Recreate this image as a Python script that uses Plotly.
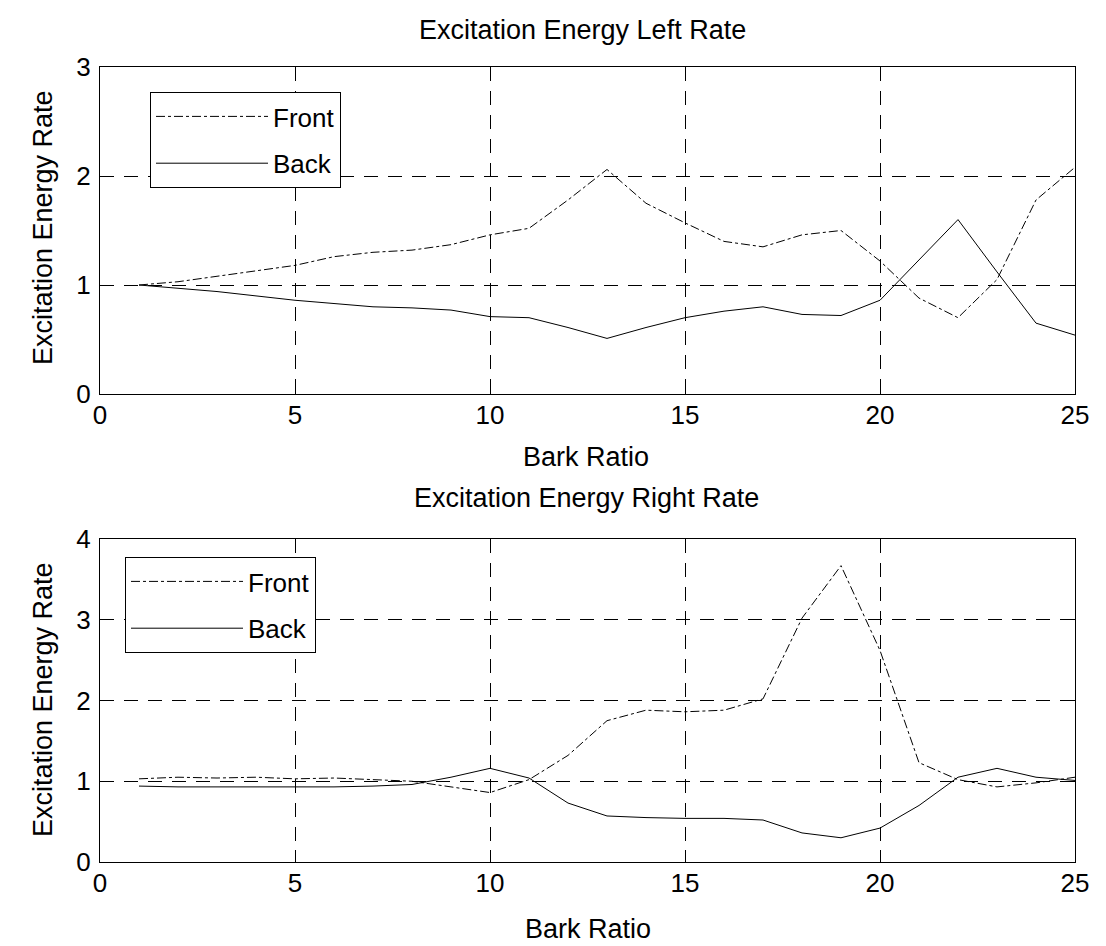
import plotly.graph_objects as go

bark = list(range(1, 26))

left_front = [1.0, 1.03, 1.08, 1.13, 1.18, 1.26, 1.30, 1.32, 1.37, 1.46, 1.52, 1.78, 2.06,
              1.75, 1.57, 1.40, 1.35, 1.46, 1.50, 1.22, 0.88, 0.70, 1.05, 1.78, 2.08]
left_back = [1.0, 0.97, 0.94, 0.90, 0.86, 0.83, 0.80, 0.79, 0.77, 0.71, 0.70, 0.61, 0.51,
             0.61, 0.70, 0.76, 0.80, 0.73, 0.72, 0.86, 1.23, 1.60, 1.12, 0.65, 0.54]
right_front = [1.03, 1.05, 1.04, 1.05, 1.03, 1.04, 1.02, 1.0, 0.93, 0.86, 1.02, 1.32, 1.75,
               1.88, 1.86, 1.88, 2.02, 3.02, 3.67, 2.62, 1.23, 1.02, 0.93, 0.98, 1.05]
right_back = [0.94, 0.93, 0.93, 0.93, 0.93, 0.93, 0.94, 0.96, 1.05, 1.16, 1.04, 0.73, 0.57,
              0.55, 0.54, 0.54, 0.52, 0.36, 0.30, 0.42, 0.70, 1.05, 1.16, 1.05, 1.01]

titles = ["Excitation Energy Left Rate", "Excitation Energy Right Rate"]
xlabel = "Bark Ratio"
ylabel = "Excitation Energy Rate"

FONT = "Liberation Sans, Arial, sans-serif"
# figure sits inside the page body (8px default margin)
OFF = 8
W, H = 1106 - OFF, 946 - OFF


def fx(px):
    return (px - OFF) / W


def fy(py):
    return 1 - (py - OFF) / H


fig = go.Figure()
fig.add_trace(go.Scatter(x=bark, y=left_front, name="Front", mode="lines",
                         line=dict(color="black", width=1, dash="dashdot"),
                         xaxis="x", yaxis="y", legend="legend", legendgroup="f1"))
fig.add_trace(go.Scatter(x=bark, y=left_back, name="Back", mode="lines",
                         line=dict(color="black", width=1),
                         xaxis="x", yaxis="y", legend="legend", legendgroup="b1"))
fig.add_trace(go.Scatter(x=bark, y=right_front, name="Front", mode="lines",
                         line=dict(color="black", width=1, dash="dashdot"),
                         xaxis="x2", yaxis="y2", legend="legend2", legendgroup="f2"))
fig.add_trace(go.Scatter(x=bark, y=right_back, name="Back", mode="lines",
                         line=dict(color="black", width=1),
                         xaxis="x2", yaxis="y2", legend="legend2", legendgroup="b2"))

xd = [fx(100), fx(1075)]
y1d = [fy(394), fy(67)]
y2d = [fy(862), fy(539)]

axis_common = dict(showline=True, linecolor="black", linewidth=1, mirror="ticks",
                   ticks="inside", ticklen=12, tickcolor="black", tickwidth=1,
                   showgrid=True, gridcolor="black", gridwidth=1, griddash="14px,10px",
                   zeroline=False, automargin=False,
                   tickfont=dict(family=FONT, size=26, color="black"))

legend_common = dict(xanchor="left", yanchor="top",
                     bgcolor="white", bordercolor="black", borderwidth=1,
                     font=dict(family=FONT, size=26, color="black"),
                     itemwidth=112, tracegroupgap=10)

fig.update_layout(
    template="none",
    width=W, height=H,
    paper_bgcolor="white", plot_bgcolor="white",
    margin=dict(l=0, r=0, t=0, b=0, autoexpand=False),
    font=dict(family=FONT, color="black"),
    xaxis=dict(domain=xd, range=[0, 25], dtick=5, anchor="y", ticklabelstandoff=-2, **axis_common),
    yaxis=dict(domain=y1d, range=[0, 3], dtick=1, anchor="x", ticklabelstandoff=3, **axis_common),
    xaxis2=dict(domain=xd, range=[0, 25], dtick=5, anchor="y2", ticklabelstandoff=-2, **axis_common),
    yaxis2=dict(domain=y2d, range=[0, 4], dtick=1, anchor="x2", ticklabelstandoff=3, **axis_common),
    legend=dict(x=fx(150), y=fy(92), **legend_common),
    legend2=dict(x=fx(125), y=fy(557), **legend_common),
    showlegend=True,
)


def label(text, px, py, size=27, angle=0):
    return dict(text=text, x=fx(px), y=fy(py), xref="paper", yref="paper",
                xanchor="center", yanchor="middle", showarrow=False, textangle=angle,
                font=dict(family=FONT, size=size, color="black"))


fig.update_layout(annotations=[
    label(titles[0], 582, 30),
    label(xlabel, 586, 457),
    label(titles[1], 586, 498),
    label(xlabel, 588, 929),
    label(ylabel, 43, 228, angle=-90),
    label(ylabel, 43, 700, angle=-90),
])

fig.write_html("out.html")
